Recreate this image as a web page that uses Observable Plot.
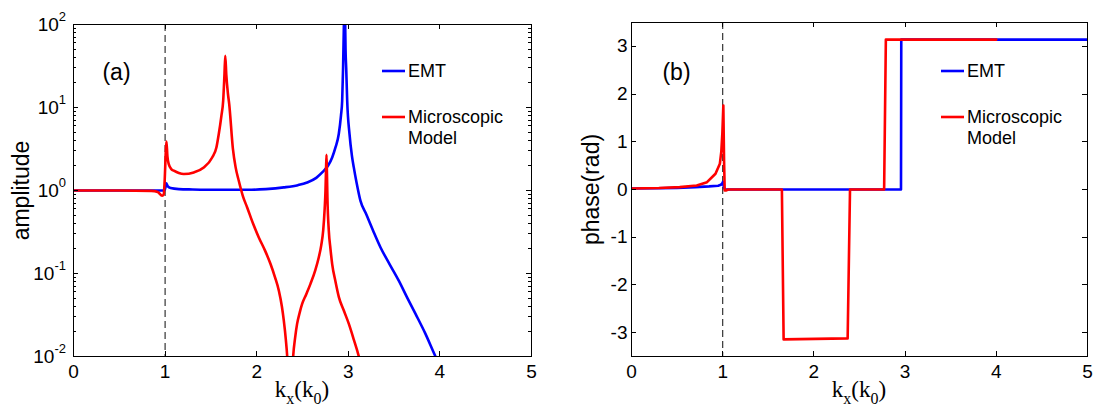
<!DOCTYPE html>
<html>
<head>
<meta charset="utf-8">
<script src="https://cdn.jsdelivr.net/npm/d3@7"></script>
<script src="https://cdn.jsdelivr.net/npm/@observablehq/plot@0.6"></script>
<style>
  body { margin: 0; background: #fff; }
  #wrap { display: flex; width: 1094px; height: 411px; }
  #wrap svg { display: block; }
</style>
</head>
<body>
<div id="wrap"></div>
<script>
// Axis ticks
const kxTicks = [0, 1, 2, 3, 4, 5];
const ampTicks = [1e-2, 1e-1, 1e0, 1e1, 1e2];
const ampMinorTicks = [-2, -1, 0, 1].flatMap(e => [2, 3, 4, 5, 6, 7, 8, 9].map(m => m * 10 ** e));
const phaseTicks = [-3, -2, -1, 0, 1, 2, 3];

// (a) amplitude — EMT
const emtAmpK = [0, 0.5, 0.98, 0.995, 1.005, 1.012, 1.03, 1.06, 1.15, 1.3,
  1.6, 1.9, 2.1, 2.296, 2.45, 2.551, 2.65, 2.715, 2.78, 2.824,
  2.86, 2.896, 2.92, 2.933, 2.943, 2.952, 2.958, 2.965, 2.97, 2.977,
  2.988, 3.013, 3.04, 3.06, 3.09, 3.133, 3.195, 3.27, 3.352, 3.45,
  3.551, 3.64, 3.734, 3.84, 3.952, 4.05];
const emtAmp = [1.0, 1.0, 1.0, 1.01, 1.1, 1.22, 1.12, 1.07, 1.04, 1.03,
  1.02, 1.02, 1.04, 1.09, 1.16, 1.25, 1.42, 1.65, 2.0, 2.5,
  3.3, 4.8, 8, 12, 30, 100, 300, 120, 50, 30,
  12, 4.8, 2.6, 1.9, 1.25, 0.75, 0.52, 0.33, 0.206, 0.13,
  0.082, 0.052, 0.0326, 0.019, 0.01, 0.006];

// (a) amplitude — microscopic model
const microAmpK = [0, 0.5, 0.85, 0.92, 0.968, 0.985, 0.995, 1.008, 1.015, 1.025,
  1.04, 1.07, 1.095, 1.15, 1.204, 1.313, 1.422, 1.514, 1.56, 1.586,
  1.615, 1.634, 1.648, 1.657, 1.668, 1.685, 1.7, 1.74, 1.77, 1.805,
  1.85, 1.896, 1.96, 2.023, 2.09, 2.151, 2.2, 2.242, 2.275, 2.296,
  2.318, 2.333, 2.35, 2.365, 2.38, 2.398, 2.42, 2.441, 2.47, 2.496,
  2.54, 2.587, 2.64, 2.678, 2.705, 2.726, 2.742, 2.751, 2.757, 2.762,
  2.767, 2.772, 2.787, 2.805, 2.824, 2.86, 2.897, 2.95, 3.006, 3.06,
  3.115, 3.16];
const microAmp = [1.0, 1.0, 0.99, 0.96, 0.865, 0.9, 1.3, 3.0, 3.9, 2.6,
  2.08, 1.8, 1.73, 1.62, 1.58, 1.65, 1.89, 2.5, 3.3, 4.8,
  8, 12, 25, 42, 25, 15, 11, 3.2, 1.9, 1.3,
  0.85, 0.625, 0.4, 0.272, 0.19, 0.13, 0.09, 0.062, 0.04, 0.027,
  0.016, 0.01, 0.004, 0.001, 0.004, 0.01, 0.017, 0.0247, 0.034, 0.043,
  0.056, 0.075, 0.11, 0.157, 0.22, 0.33, 0.6, 1.0, 1.8, 2.7,
  1.6, 0.83, 0.33, 0.2, 0.13, 0.08, 0.052, 0.036, 0.0247, 0.016,
  0.01, 0.006];

// (b) phase — EMT
const emtPhaseK = [0, 0.3, 0.5, 0.7, 0.85, 0.95, 0.98, 0.995, 1.003, 1.012, 1.025, 2.955, 2.958, 5];
const emtPhase = [0.02, 0.025, 0.035, 0.05, 0.065, 0.08, 0.1, 0.13, 0.16, 0.05, 0, 0, 3.1416, 3.1416];

// (b) phase — microscopic model
const microPhaseK = [0, 0.3, 0.528, 0.715, 0.828, 0.921, 0.969, 0.985, 0.996, 1.007,
  1.015, 1.022, 1.04, 1.06, 1.649, 1.668, 2.37, 2.396, 2.77, 2.789, 4.0];
const microPhase = [0.02, 0.03, 0.05, 0.084, 0.153, 0.33, 0.54, 0.8, 1.17, 1.76,
  0.6, -0.02, -0.02, 0, 0, -3.1416, -3.12, 0, 0, 3.1416, 3.1416];

const seriesNames = ["EMT", "Microscopic\nModel"];
const seriesColors = ["#0000ff", "#ff0000"];

const SANS = "'Liberation Sans', Arial, Helvetica, sans-serif";
const SERIF = "'Liberation Serif', 'Times New Roman', serif";
const H = 411;

const rows = (ks, vs) => ks.map((k, i) => ({k, v: vs[i]}));

// Inward tick marks on all four sides of the frame
function boxTicks(xt, yt, len) {
  return (index, scales, values, dims) => {
    const g = d3.create("svg:g").attr("stroke", "black").attr("stroke-width", 1);
    const L = dims.marginLeft, R = dims.width - dims.marginRight;
    const T = dims.marginTop, B = dims.height - dims.marginBottom;
    for (const v of xt) {
      const px = Math.round(scales.x(v)) + 0.5;
      g.append("line").attr("x1", px).attr("x2", px).attr("y1", B).attr("y2", B - len);
      g.append("line").attr("x1", px).attr("x2", px).attr("y1", T).attr("y2", T + len);
    }
    for (const v of yt) {
      const py = Math.round(scales.y(v)) + 0.5;
      g.append("line").attr("x1", L).attr("x2", L + len).attr("y1", py).attr("y2", py);
      g.append("line").attr("x1", R - len).attr("x2", R).attr("y1", py).attr("y2", py);
    }
    return g.node();
  };
}

// Legend drawn inside the frame, relative to its top-left corner
function legend(offsetX, offsetY) {
  return (index, scales, values, dims) => {
    const g = d3.create("svg:g").attr("font-family", SANS).attr("font-size", 18).attr("text-anchor", "start");
    const x0 = dims.marginLeft + offsetX;
    const y0 = dims.marginTop + offsetY;
    const rowsY = [0, 46];
    seriesNames.forEach((name, i) => {
      const y = y0 + rowsY[i];
      g.append("line").attr("x1", x0).attr("x2", x0 + 23).attr("y1", y).attr("y2", y)
        .attr("stroke", seriesColors[i]).attr("stroke-width", 2.6);
      const t = g.append("text").attr("y", y).attr("fill", "black");
      name.split("\n").forEach((line, j) => {
        t.append("tspan").attr("x", x0 + 26).attr("dy", j === 0 ? "0.36em" : "1.12em").text(line);
      });
    });
    return g.node();
  };
}

// k_x(k_0) axis title with subscripts
function kxTitle(dims) {
  const g = d3.create("svg:g").attr("font-family", SERIF).attr("font-size", 23).attr("text-anchor", "middle").attr("fill", "black");
  const cx = dims.marginLeft + (dims.width - dims.marginLeft - dims.marginRight) / 2;
  const t = g.append("text").attr("x", cx).attr("y", dims.height - dims.marginBottom + 41);
  t.append("tspan").text("k");
  t.append("tspan").attr("font-size", 16).attr("dy", 7).text("x");
  t.append("tspan").attr("dy", -7).text("(k");
  t.append("tspan").attr("font-size", 16).attr("dy", 7).text("0");
  t.append("tspan").attr("dy", -7).text(")");
  return g.node();
}

// Powers-of-ten labels for the log axis
function logTickLabels(index, scales, values, dims) {
  const g = d3.create("svg:g").attr("font-family", SANS).attr("font-size", 19).attr("text-anchor", "end").attr("fill", "black");
  for (const v of ampTicks) {
    const t = g.append("text").attr("x", dims.marginLeft - 7).attr("y", scales.y(v)).attr("dy", "0.36em");
    t.append("tspan").text("10");
    t.append("tspan").attr("font-size", 13).attr("dy", "-0.75em").text(String(Math.round(Math.log10(v))));
  }
  return g.node();
}

const textBase = {textAnchor: "middle", lineAnchor: "middle", fill: "black"};

// ---------- (a) amplitude ----------
{
  const width = 560, ml = 73, mr = 29, mt = 24, mb = 55;
  const chart = Plot.plot({
    width, height: H,
    marginLeft: ml, marginRight: mr, marginTop: mt, marginBottom: mb,
    style: {fontFamily: SANS, fontSize: "19px", background: "white", color: "black"},
    x: {domain: [0, 5], axis: null},
    y: {type: "log", domain: [1e-2, 1e2], axis: null},
    marks: [
      Plot.ruleX([1], {stroke: "#222", strokeWidth: 1.1, strokeDasharray: "7,4"}),
      Plot.line(rows(emtAmpK, emtAmp), {x: "k", y: "v", stroke: seriesColors[0], strokeWidth: 2.6, curve: "monotone-x", clip: true}),
      Plot.line(rows(microAmpK, microAmp), {x: "k", y: "v", stroke: seriesColors[1], strokeWidth: 2.6, curve: "monotone-x", clip: true}),
      Plot.frame({stroke: "black", strokeWidth: 1}),
      boxTicks(kxTicks, ampTicks, 5),
      boxTicks([], ampMinorTicks, 3),
      Plot.axisX(kxTicks, {tickSize: 0, tickPadding: 8, fontSize: 19, label: null, tickFormat: d => String(d)}),
      logTickLabels,
      Plot.text(["amplitude"], {...textBase, frameAnchor: "left", dx: -52, rotate: -90, fontSize: 23}),
      Plot.text(["(a)"], {...textBase, frameAnchor: "top-left", dx: 43, dy: 48, fontSize: 23}),
      legend(309, 47),
      (index, scales, values, dims) => kxTitle(dims)
    ]
  });
  document.getElementById("wrap").append(chart);
}

// ---------- (b) phase ----------
{
  const width = 534, ml = 71, mr = 7, mt = 22, mb = 55;
  const chart = Plot.plot({
    width, height: H,
    marginLeft: ml, marginRight: mr, marginTop: mt, marginBottom: mb,
    style: {fontFamily: SANS, fontSize: "19px", background: "white", color: "black"},
    x: {domain: [0, 5], axis: null},
    y: {domain: [-3.5, 3.5], axis: null},
    marks: [
      Plot.ruleX([1], {stroke: "#222", strokeWidth: 1.1, strokeDasharray: "7,4"}),
      Plot.line(rows(emtPhaseK, emtPhase), {x: "k", y: "v", stroke: seriesColors[0], strokeWidth: 2.6, clip: true}),
      Plot.line(rows(microPhaseK, microPhase), {x: "k", y: "v", stroke: seriesColors[1], strokeWidth: 2.6, clip: true}),
      Plot.frame({stroke: "black", strokeWidth: 1}),
      boxTicks(kxTicks, phaseTicks, 5),
      Plot.axisX(kxTicks, {tickSize: 0, tickPadding: 8, fontSize: 19, label: null, tickFormat: d => String(d)}),
      Plot.axisY(phaseTicks, {tickSize: 0, tickPadding: 4, fontSize: 19, label: null, tickFormat: d => String(d)}),
      Plot.text(["phase(rad)"], {...textBase, frameAnchor: "left", dx: -40, rotate: -90, fontSize: 23}),
      Plot.text(["(b)"], {...textBase, frameAnchor: "top-left", dx: 45, dy: 50, fontSize: 23}),
      legend(310, 49),
      (index, scales, values, dims) => kxTitle(dims)
    ]
  });
  document.getElementById("wrap").append(chart);
}
</script>
</body>
</html>
